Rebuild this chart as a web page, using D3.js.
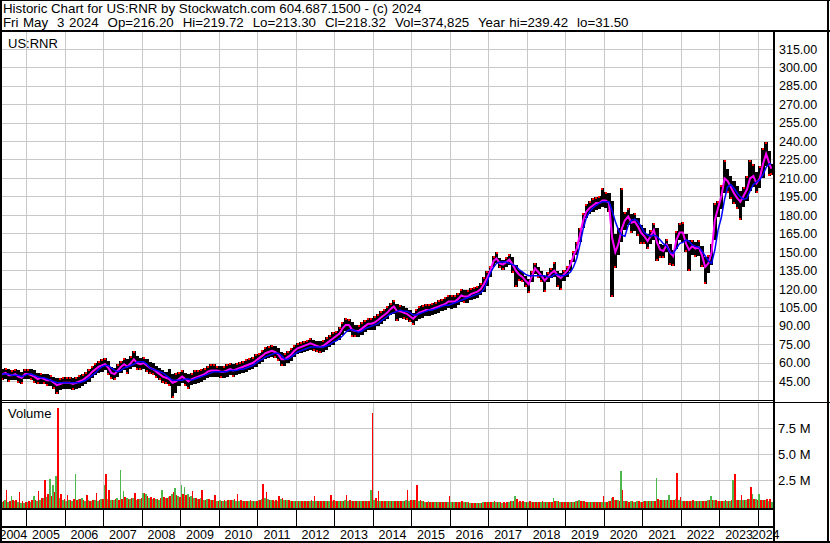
<!DOCTYPE html>
<html><head><meta charset="utf-8">
<script src="https://cdn.jsdelivr.net/npm/d3@7"></script>
<style>
body{margin:0;background:#fff}
svg{display:block}
text{font-family:Arial,"Liberation Sans",sans-serif;white-space:pre;fill:#000}
</style></head>
<body><svg id="c" width="830" height="543"></svg>
<script>
// ---------- data (monthly, Apr 2004 .. May 2024) ----------
const firstMonth = [2004, 3];           // April 2004
const lastDate = [2024, 4, 3];          // May 3 2024
const priceHigh = [
 57,55,56,55,54,55,54,53,55,
 55,55,54,52,52,51,51,50,49,48,48,49,
 49,49,48,49,50,51,53,55,58,60,62,63,
 64,62,57,56,59,62,64,63,66,70,66,64,
 65,63,61,60,58,56,54,53,55,51,52,53,
 54,52,51,52,54,54,55,56,58,59,59,58,
 58,58,59,60,59,60,61,62,63,64,65,67,
 68,71,73,74,75,74,72,69,68,70,72,75,
 76,77,78,79,80,79,78,78,79,81,83,85,
 86,89,93,97,96,93,91,91,93,95,97,97,
 98,100,102,104,106,109,111,108,107,106,105,103,
 101,104,106,107,108,108,109,110,111,112,114,115,
 115,115,117,120,119,119,121,122,123,125,130,135,
 139,147,150,145,144,146,149,146,140,136,134,131,
 128,135,141,138,135,131,134,137,142,135,133,136,
 139,144,151,158,170,182,189,192,194,195,196,202,
 199,198,192,165,170,202,183,186,181,182,178,172,
 170,165,168,174,170,157,156,161,157,152,167,174,
 175,165,160,160,158,160,155,146,148,157,190,192,
 205,225,218,212,208,204,200,203,212,225,222,215,
 220,235,239.4,232,222];
const priceLow = [
 47,46,47,45,46,46,44,43,47,
 47,46,44,43,43,43,41,41,39,35,38,39,
 39,39,38,39,40,41,43,45,48,50,52,53,
 54,50,47,46,49,52,54,51,55,57,54,54,
 55,53,51,50,48,46,44,43,41,31.5,36,41,
 44,41,39,42,43,44,45,46,48,49,49,49,
 48,48,49,50,49,50,51,52,53,54,55,57,
 59,61,63,64,65,64,62,58,58,60,62,65,
 67,68,69,70,71,70,69,68,69,71,73,75,
 78,79,83,86,85,81,81,81,83,85,87,87,
 87,90,92,94,96,99,100,94,97,96,95,93,
 91,94,96,97,98,98,99,100,101,102,103,105,
 104,105,107,110,109,109,111,112,113,115,118,123,
 130,138,141,137,136,138,140,133,122,127,126,122,
 117,126,132,129,126,118,126,129,130,122,119,127,
 130,135,142,148,158,170,178,181,183,184,185,187,
 186,183,113.5,137,148,158,168,172,166,167,163,157,
 157,153,157,160,143,145,145,150,140,139,153,160,
 158,150,135,148,146,147,138,124.5,133,140,160,179,
 185,198,198,193,189,185,176,187,192,200,203,198,
 202,210,220,212,213];
const maShort = [
 52,51,52,50,50,51,49,48,51,
 51,50,49,47,48,47,46,46,44,42,43,44,
 44,44,43,44,45,46,48,50,53,55,57,58,
 59,56,52,51,54,57,59,57,60,63,60,59,
 60,58,56,55,53,51,49,48,47,44,45,47,
 49,47,45,47,48,49,50,51,53,54,54,54,
 53,53,54,55,54,55,56,57,58,59,60,62,
 64,66,68,69,70,69,67,63,63,65,67,70,
 72,73,74,75,76,75,74,73,74,76,78,80,
 82,84,88,91,91,87,86,86,88,90,92,92,
 93,95,97,99,101,104,106,102,102,101,100,98,
 96,99,101,102,103,103,104,105,106,107,108,110,
 110,110,112,115,114,114,116,117,118,120,124,129,
 135,143,145,141,140,142,144,140,135,132,130,127,
 124,131,137,134,131,127,130,133,135,131,129,132,
 135,140,147,153,164,176,183,186,188,190,190,192,
 192,190,162,150,157,169,176,179,174,175,171,166,
 163,159,163,168,158,152,151,156,150,147,160,166,
 166,157,152,155,153,154,148,138,141,150,176,186,
 195,210,208,203,198,194,191,196,201,210,212,206,
 210,222,230,222,218];
const maLong = [
 51,51,51,51,50,50,50,49,50,
 51,51,50,49,48,48,47,46,45,44,44,44,
 44,44,44,44,44,45,46,48,50,52,55,57,
 58,58,56,54,53,54,56,57,58,59,61,61,
 61,59,56,55,54,53,52,50,48,46,46,46,
 46,47,47,46,47,48,49,50,51,52,53,53,
 53,53,53,54,54,54,55,55,56,57,58,60,
 62,63,65,66,67,68,68,66,63,63,65,67,
 69,70,71,72,73,73,73,73,73,74,75,77,
 78,80,82,85,87,87,86,85,86,88,89,90,
 91,92,94,96,98,100,101,102,103,102,102,101,
 99,99,100,101,102,103,103,104,105,106,107,107,
 108,109,110,111,112,113,114,115,116,117,120,126,
 133,138,141,142,142,142,141,140,139,136,134,132,
 131,131,131,131,131,131,130,130,132,132,131,131,
 132,134,138,145,156,169,178,183,186,188,190,191,
 191,191,184,175,168,164,163,172,176,177,175,171,
 166,164,163,164,163,160,157,155,150,149,153,157,
 158,160,159,156,155,154,151,147,143,141,152,168,
 178,193,203,205,202,198,195,193,194,200,205,207,
 209,213,219,222,222];
// volume in units of 100,000 shares (up days / down days)
const volUp = [
 5,4,6,4,10,5,4,3,3,
 4,4,10,5,6,8,9,26,20,29,8,6,
 5,6,5,31,7,8,5,6,5,6,5,7,
 20,7,6,6,8,35,15,8,7,8,6,7,
 13,12,8,7,7,6,16,8,9,12,18,10,
 20,19,12,10,8,7,8,6,7,6,6,5,
 6,5,5,6,6,5,5,5,5,5,5,5,
 6,7,8,7,6,5,5,7,6,6,5,5,
 5,5,5,5,5,5,5,5,5,5,5,5,
 5,5,5,6,5,5,5,5,5,5,5,16,
 6,5,5,5,5,5,5,5,5,5,6,5,
 6,6,5,5,4,5,4,4,4,4,4,4,
 4,4,4,4,4,4,3,3,3,3,4,4,
 4,4,4,4,3,3,4,5,10,4,4,4,
 4,4,4,4,4,4,4,4,8,5,4,4,
 4,4,4,5,6,5,4,4,4,4,4,4,
 4,5,8,6,6,34,5,5,5,4,5,4,
 5,5,5,5,27,6,6,6,11,6,7,6,
 5,5,5,5,5,5,5,5,6,10,6,5,
 5,5,5,5,25,6,6,6,6,7,12,7,
 12,6,6,5,4];
const volDown = [
 6,5,16,5,6,6,14,5,4,
 5,6,6,15,8,25,12,10,14,95,12,7,
 11,6,7,6,7,6,11,5,6,13,6,7,
 31,16,6,7,6,7,9,7,8,13,7,8,
 13,10,9,8,7,8,9,8,10,14,11,9,
 12,11,9,15,8,7,16,6,7,6,11,5,
 5,6,6,6,7,12,6,5,5,6,5,5,
 6,21,14,6,6,6,10,8,6,6,5,5,
 5,5,5,5,6,10,5,5,5,5,11,6,
 5,5,5,11,6,5,5,5,5,5,5,90,
 8,15,5,5,5,5,5,5,5,5,16,6,
 6,20,6,5,4,4,4,4,4,4,4,10,
 4,4,4,5,4,4,3,3,3,3,4,4,
 4,5,4,4,4,4,5,5,7,5,5,4,
 5,4,4,4,5,4,4,4,5,5,4,4,
 4,4,4,5,5,5,4,4,4,4,4,10,
 4,5,9,6,5,16,5,4,5,4,5,4,
 5,5,5,5,7,6,6,6,6,6,32,9,
 5,5,5,6,5,5,5,5,6,6,6,5,
 5,6,5,6,31,6,11,6,7,19,7,6,
 6,6,7,7,4];
const priceTicks = [45,60,75,90,105,120,135,150,165,180,195,210,225,240,255,270,285,300,315];
const volTicks = [2.5e6, 5e6, 7.5e6];
const volTickLabels = ["2.5 M","5.0 M","7.5 M"];
const years = d3.range(2004, 2025);
const headerLines = [
 "Historic Chart for US:RNR by Stockwatch.com 604.687.1500 - (c) 2024",
 "Fri May  3 2024  Op=216.20  Hi=219.72  Lo=213.30  Cl=218.32  Vol=374,825  Year hi=239.42  lo=31.50"
];
const symbolLabel = "US:RNR";
const volumeLabel = "Volume";

// ---------- layout ----------
const svg = d3.select("#c");
const L = 2, R = 773;
const pTop = 32, pBot = 400, vTop = 402, vBot = 508;
const x = d3.scaleTime().domain([new Date(2005,0,1), new Date(2024,0,1)]).range([26.7, 758.3]);
const y = d3.scaleLinear().domain([45,315]).range([381.5, 49.2]);
const yv = d3.scaleLinear().domain([0,1e7]).range([506.2, 402.6]);
const grid = "#c8c8c8";
const n = priceHigh.length;
const mStart = i => d3.timeMonth.offset(new Date(firstMonth[0], firstMonth[1], 1), i);
const dates = d3.range(n).map(i => i === n-1 ? new Date(lastDate[0], lastDate[1], lastDate[2]) : d3.timeDay.offset(mStart(i), 14));

svg.append("rect").attr("width",830).attr("height",543).attr("fill","#fff");

const defs = svg.append("defs");
defs.append("clipPath").attr("id","cp").append("rect").attr("x",L).attr("y",pTop).attr("width",R-L).attr("height",pBot-pTop);
defs.append("clipPath").attr("id","cv").append("rect").attr("x",L).attr("y",vTop).attr("width",R-L).attr("height",vBot-vTop);

const px = v => Math.floor(v) + 0.5;
const yearBounds = d3.range(2005, 2025).map(Y => x(new Date(Y,0,1)));

const gp = svg.append("g").attr("clip-path","url(#cp)").attr("stroke",grid).attr("stroke-width",1).attr("shape-rendering","crispEdges");
gp.selectAll("line.v").data(yearBounds).join("line").attr("x1",d=>px(d)).attr("x2",d=>px(d)).attr("y1",pTop).attr("y2",pBot);
gp.selectAll("line.h").data(priceTicks).join("line").attr("x1",L).attr("x2",R).attr("y1",d=>px(y(d))).attr("y2",d=>px(y(d)));
const gv = svg.append("g").attr("clip-path","url(#cv)").attr("stroke",grid).attr("stroke-width",1).attr("shape-rendering","crispEdges");
gv.selectAll("line.v").data(yearBounds).join("line").attr("x1",d=>px(d)).attr("x2",d=>px(d)).attr("y1",vTop).attr("y2",vBot);
gv.selectAll("line.h").data(volTicks).join("line").attr("x1",L).attr("x2",R).attr("y1",d=>px(yv(d))).attr("y2",d=>px(yv(d)));

const pg = svg.append("g").attr("clip-path","url(#cp)").attr("shape-rendering","crispEdges");
const bw = 3.3;
pg.selectAll("rect.bar").data(d3.range(n)).join("rect")
  .attr("x", i => x(dates[i]) - bw/2).attr("width", bw)
  .attr("y", i => y(priceHigh[i])).attr("height", i => y(priceLow[i]) - y(priceHigh[i]))
  .attr("fill","#000");
pg.selectAll("rect.tick").data(d3.range(n)).join("rect")
  .attr("x", i => x(dates[i]) - 1).attr("width", 2)
  .attr("y", i => (i>0 && maShort[i] < maShort[i-1]) ? y(priceLow[i]) - 2 : y(priceHigh[i]))
  .attr("height", 2).attr("fill","#ff0000");

const line = arr => d3.line().x((d,i)=>x(dates[i])).y(d=>y(d)).curve(d3.curveLinear)(arr);
const lg = svg.append("g").attr("clip-path","url(#cp)").attr("fill","none");
lg.append("path").attr("d", line(maShort)).attr("stroke","#ff00ff").attr("stroke-width",2);
lg.append("path").attr("d", line(maLong)).attr("stroke","#0000ff").attr("stroke-width",1.5);

const vg = svg.append("g").attr("clip-path","url(#cv)").attr("shape-rendering","crispEdges");
d3.range(n).forEach(i => {
  const a = x(mStart(i)), b = x(mStart(i+1)), m = (a+b)/2;
  vg.append("rect").attr("x",a).attr("width",m-a).attr("y",yv(volUp[i]*1e5)).attr("height",vBot-yv(volUp[i]*1e5)).attr("fill","#4cb84c");
  vg.append("rect").attr("x",m).attr("width",b-m).attr("y",yv(volDown[i]*1e5)).attr("height",vBot-yv(volDown[i]*1e5)).attr("fill","#ff0000");
});

const k = svg.append("g").attr("stroke","#000").attr("shape-rendering","crispEdges");
const hl = (x1,x2,yy,w) => k.append("line").attr("x1",x1).attr("x2",x2).attr("y1",yy).attr("y2",yy).attr("stroke-width",w);
const vl = (xx,y1,y2,w) => k.append("line").attr("x1",xx).attr("x2",xx).attr("y1",y1).attr("y2",y2).attr("stroke-width",w);
hl(0,830,0.5,1);
hl(0,830,31,2);
hl(0,R,400.5,1); hl(0,830,402.5,1);
hl(0,R+2,509,2);
hl(0,R+2,527,2);
hl(0,830,542,2);
vl(1,0,543,2);
vl(R+1,31,543,2);
vl(828,0,543,2);
k.selectAll("line.ys").data(yearBounds).join("line").attr("x1",d=>px(d)).attr("x2",d=>px(d)).attr("y1",510).attr("y2",526).attr("stroke-width",1);

const t = svg.append("g").attr("font-size","12.5px");
t.selectAll("text.h").data(headerLines).join("text").attr("font-size","13.3px")
  .attr("word-spacing",(d,i)=> i===1 ? "0.8px" : "0px")
  .attr("x",3).attr("y",(d,i)=>13+i*14).text(d=>d);
t.append("text").attr("font-size","13px").attr("x",8).attr("y",48).text(symbolLabel);
t.append("text").attr("font-size","13px").attr("x",8).attr("y",418).text(volumeLabel);
t.selectAll("text.p").data(priceTicks).join("text").attr("x",779).attr("y",d=>y(d)).attr("dy","0.35em").text(d=>d.toFixed(2));
t.selectAll("text.v").data(volTicks).join("text").attr("font-size","13px").attr("x",778).attr("y",d=>yv(d)).attr("dy","0.35em").text((d,i)=>volTickLabels[i]);
t.selectAll("text.y").data(years).join("text").attr("text-anchor","middle")
  .attr("x", Y => { const a = Math.max(0, x(new Date(Y,0,1))), b = Math.min(R, x(new Date(Y+1,0,1))); return (a+b)/2; })
  .attr("y",539).text(Y=>Y);
</script></body></html>
